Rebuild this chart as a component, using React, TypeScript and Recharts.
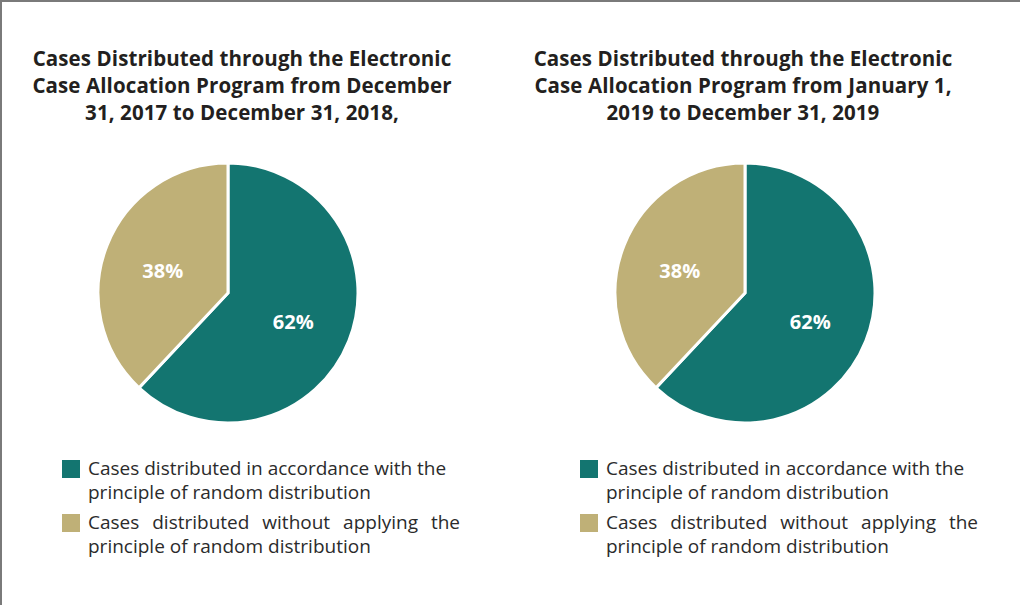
import React from 'react';
import { PieChart, Pie, Cell } from 'recharts';

const seriesNames = [
  'Cases distributed in accordance with the principle of random distribution',
  'Cases distributed without applying the principle of random distribution',
];
const values2018 = [62, 38];
const values2019 = [62, 38];
const titles = [
  ['Cases Distributed through the Electronic', 'Case Allocation Program from December', '31, 2017 to December 31, 2018,'],
  ['Cases Distributed through the Electronic', 'Case Allocation Program from January 1,', '2019 to December 31, 2019'],
];

const COLORS = ['#137570', '#BFB077'];
const FONT = '"Open Sans", "Noto Sans", sans-serif';

const RADIAN = Math.PI / 180;

const renderLabel = (props: any) => {
  const { cx, cy, midAngle, outerRadius, value } = props;
  const r = outerRadius * 0.54;
  const x = cx + r * Math.cos(-midAngle * RADIAN);
  const y = cy + r * Math.sin(-midAngle * RADIAN) + 3;
  return (
    <text x={x} y={y} fill="#fff" textAnchor="middle" dominantBaseline="central" fontFamily={FONT} fontWeight={700} fontSize={20}>
      {`${value}%`}
    </text>
  );
};

const LegendBox = ({ left }: { left: number }) => (
  <div
    style={{
      position: 'absolute',
      top: 454,
      left,
      fontFamily: FONT,
      fontSize: 19,
      color: '#2b2b2b',
      lineHeight: '24px',
    }}
  >
    {seriesNames.map((name, i) => (
      <div key={name} style={{ display: 'flex', alignItems: 'flex-start', marginBottom: 6 }}>
        <span style={{ width: 18, height: 18, background: COLORS[i], marginTop: 4, marginRight: 8, flexShrink: 0 }} />
        <span style={{ width: 372, textAlign: i === 1 ? 'justify' : 'left' }}>{name}</span>
      </div>
    ))}
  </div>
);

interface PanelProps {
  values: number[];
  title: string[];
  left: number;
  titleCenter: number;
  pieCenter: number;
}

const Panel = ({ values, title, left, titleCenter, pieCenter }: PanelProps) => {
  const data = seriesNames.map((name, i) => ({ name, value: values[i] }));
  return (
    <>
      <div
        style={{
          position: 'absolute',
          top: 43,
          left: titleCenter - 252,
          width: 500,
          textAlign: 'center',
          fontFamily: FONT,
          fontWeight: 700,
          fontSize: 20.5,
          lineHeight: '27px',
          color: '#231f20',
          letterSpacing: 0.1,
        }}
      >
        {title.map((t) => (
          <div key={t}>{t}</div>
        ))}
      </div>
      <div style={{ position: 'absolute', top: 143, left: pieCenter - 157 }}>
        <PieChart width={300} height={290}>
          <Pie
            data={data}
            dataKey="value"
            nameKey="name"
            cx={150}
            cy={143}
            outerRadius={130}
            startAngle={90}
            endAngle={-270}
            stroke="#fff"
            strokeWidth={3}
            label={renderLabel}
            labelLine={false}
            isAnimationActive={false}
          >
            {data.map((d, i) => (
              <Cell key={d.name} fill={COLORS[i]} />
            ))}
          </Pie>
        </PieChart>
      </div>
      <LegendBox left={left} />
    </>
  );
};

export default function App() {
  return (
    <div
      style={{
        position: 'fixed',
        top: 0,
        left: 0,
        width: 1020,
        height: 605,
        background: '#fff',
        borderLeft: '2px solid #7a7a7a',
        borderTop: '2px solid #7a7a7a',
        boxSizing: 'border-box',
      }}
    >
      <Panel values={values2018} title={titles[0]} left={60} titleCenter={242} pieCenter={228} />
      <Panel values={values2019} title={titles[1]} left={578} titleCenter={743} pieCenter={745} />
    </div>
  );
}
